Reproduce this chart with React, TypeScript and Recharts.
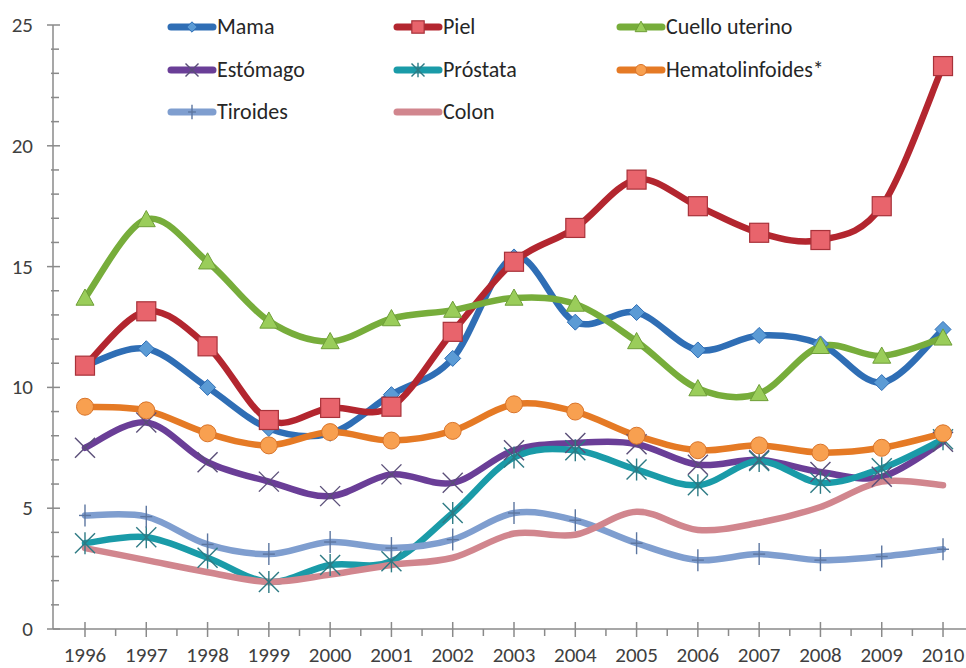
import React from "react";
import { LineChart, Line, XAxis, YAxis } from "recharts";

const years = [1996, 1997, 1998, 1999, 2000, 2001, 2002, 2003, 2004, 2005, 2006, 2007, 2008, 2009, 2010];
const yTicks = [0, 1, 2, 3, 4, 5, 6, 7, 8, 9, 10, 11, 12, 13, 14, 15, 16, 17, 18, 19, 20, 21, 22, 23, 24, 25];

const mama = [10.9, 11.6, 10.0, 8.3, 8.1, 9.7, 11.2, 15.4, 12.7, 13.1, 11.55, 12.15, 11.8, 10.2, 12.4];
const piel = [10.9, 13.15, 11.7, 8.65, 9.15, 9.2, 12.3, 15.2, 16.6, 18.6, 17.5, 16.4, 16.1, 17.5, 23.3];
const cuello = [13.7, 16.95, 15.2, 12.75, 11.9, 12.85, 13.2, 13.7, 13.45, 11.9, 9.95, 9.75, 11.7, 11.3, 12.05];
const estomago = [7.5, 8.55, 6.9, 6.1, 5.5, 6.4, 6.05, 7.4, 7.7, 7.65, 6.8, 7.0, 6.5, 6.3, 7.75];
const prostata = [3.55, 3.8, 2.95, 1.95, 2.65, 2.8, 4.8, 7.1, 7.4, 6.6, 5.95, 6.95, 6.05, 6.65, 7.85];
const hemato = [9.2, 9.05, 8.1, 7.6, 8.15, 7.8, 8.2, 9.3, 9.0, 8.0, 7.4, 7.6, 7.3, 7.5, 8.1];
const tiroides = [4.7, 4.65, 3.5, 3.1, 3.6, 3.35, 3.7, 4.8, 4.5, 3.55, 2.85, 3.1, 2.85, 3.0, 3.3];
const colon = [3.35, 2.85, 2.35, 1.95, 2.25, 2.65, 2.95, 3.95, 3.9, 4.85, 4.1, 4.4, 5.05, 6.1, 5.95];

const data = years.map((year, i) => ({
  year,
  mama: mama[i],
  piel: piel[i],
  cuello: cuello[i],
  estomago: estomago[i],
  prostata: prostata[i],
  hemato: hemato[i],
  tiroides: tiroides[i],
  colon: colon[i],
}));

const xTicks: number[] = [];
years.forEach((y, i) => {
  xTicks.push(y);
  if (i < years.length - 1) xTicks.push(y + 0.5);
});

const FONT = "Carlito, 'Liberation Sans Narrow', Lato, sans-serif";

type SeriesDef = {
  key: string;
  name: string;
  color: string;
  marker: string;
  fill: string;
  mstroke: string;
};

const series: SeriesDef[] = [
  { key: "mama", name: "Mama", color: "#2F6EB5", marker: "diamond", fill: "#5B9BD5", mstroke: "#2F6EB5" },
  { key: "piel", name: "Piel", color: "#B3262F", marker: "square", fill: "#E8646C", mstroke: "#A8323A" },
  { key: "cuello", name: "Cuello uterino", color: "#77AD3B", marker: "triangle", fill: "#9ACD5A", mstroke: "#6E9E38" },
  { key: "estomago", name: "Estómago", color: "#6A3E97", marker: "x", fill: "none", mstroke: "#5A4E78" },
  { key: "prostata", name: "Próstata", color: "#1A9BA8", marker: "star", fill: "none", mstroke: "#2D7A84" },
  { key: "hemato", name: "Hematolinfoides*", color: "#E57A25", marker: "circle", fill: "#F8A050", mstroke: "#D9742A" },
  { key: "tiroides", name: "Tiroides", color: "#7F9ECF", marker: "plus", fill: "none", mstroke: "#5C76A0" },
  { key: "colon", name: "Colon", color: "#D1868E", marker: "none", fill: "none", mstroke: "none" },
];

// Excel-like smoothed line (Catmull-Rom through points)
const excelCurve = (ctx: any) => {
  let pts: number[][] = [];
  return {
    areaStart() {},
    areaEnd() {},
    lineStart() {
      pts = [];
    },
    point(x: number, y: number) {
      pts.push([+x, +y]);
    },
    lineEnd() {
      if (!pts.length) return;
      ctx.moveTo(pts[0][0], pts[0][1]);
      const t = 1 / 6;
      for (let i = 0; i < pts.length - 1; i++) {
        const p0 = pts[i - 1] || pts[i];
        const p1 = pts[i];
        const p2 = pts[i + 1];
        const p3 = pts[i + 2] || p2;
        ctx.bezierCurveTo(
          p1[0] + (p2[0] - p0[0]) * t,
          p1[1] + (p2[1] - p0[1]) * t,
          p2[0] - (p3[0] - p1[0]) * t,
          p2[1] - (p3[1] - p1[1]) * t,
          p2[0],
          p2[1]
        );
      }
    },
  };
};

function Marker({ s, cx, cy, scale = 1 }: { s: SeriesDef; cx: number; cy: number; scale?: number }) {
  const k = scale;
  switch (s.marker) {
    case "diamond": {
      const r = 8 * k;
      return (
        <polygon
          points={`${cx},${cy - r} ${cx + r},${cy} ${cx},${cy + r} ${cx - r},${cy}`}
          fill={s.fill}
          stroke={s.mstroke}
          strokeWidth={1}
        />
      );
    }
    case "square": {
      const r = 9.5 * k;
      return <rect x={cx - r} y={cy - r} width={2 * r} height={2 * r} fill={s.fill} stroke={s.mstroke} strokeWidth={1.2} />;
    }
    case "triangle": {
      const r = 9 * k;
      return (
        <polygon
          points={`${cx},${cy - r} ${cx + r},${cy + r * 0.8} ${cx - r},${cy + r * 0.8}`}
          fill={s.fill}
          stroke={s.mstroke}
          strokeWidth={1}
        />
      );
    }
    case "circle":
      return <circle cx={cx} cy={cy} r={8.5 * k} fill={s.fill} stroke={s.mstroke} strokeWidth={1} />;
    case "x": {
      const r = 10 * k;
      return (
        <g stroke={s.mstroke} strokeWidth={1.4}>
          <line x1={cx - r} y1={cy - r} x2={cx + r} y2={cy + r} />
          <line x1={cx - r} y1={cy + r} x2={cx + r} y2={cy - r} />
        </g>
      );
    }
    case "star": {
      const r = 10 * k;
      return (
        <g stroke={s.mstroke} strokeWidth={1.4}>
          <line x1={cx - r} y1={cy - r} x2={cx + r} y2={cy + r} />
          <line x1={cx - r} y1={cy + r} x2={cx + r} y2={cy - r} />
          <line x1={cx} y1={cy - r * 1.1} x2={cx} y2={cy + r * 1.1} />
        </g>
      );
    }
    case "plus": {
      const r = 11 * k;
      return (
        <g stroke={s.mstroke} strokeWidth={1.4}>
          <line x1={cx} y1={cy - r} x2={cx} y2={cy + r} />
          <line x1={cx - 6 * k} y1={cy} x2={cx + 6 * k} y2={cy} />
        </g>
      );
    }
    default:
      return null;
  }
}

const XTick = (props: any) => {
  const { x, y, payload } = props;
  const v = payload.value;
  const major = Number.isInteger(v);
  return (
    <g>
      {major ? (
        <>
          <line x1={x} y1={y - 7} x2={x} y2={y + 8} stroke="#8A8A8A" strokeWidth={1.5} />
          <text x={x} y={y + 33} textAnchor="middle" fill="#404040" fontSize={21} fontFamily={FONT}>
            {v}
          </text>
        </>
      ) : (
        <line x1={x} y1={y} x2={x} y2={y + 7} stroke="#8A8A8A" strokeWidth={1.5} />
      )}
    </g>
  );
};

const YTick = (props: any) => {
  const { x, y, payload } = props;
  const v = payload.value;
  const major = v % 5 === 0;
  return (
    <g>
      {major ? (
        <>
          <line x1={x - 6} y1={y} x2={x + 7} y2={y} stroke="#8A8A8A" strokeWidth={1.5} />
          <text x={x - 20} y={y + 7} textAnchor="end" fill="#404040" fontSize={21} fontFamily={FONT}>
            {v}
          </text>
        </>
      ) : (
        <line x1={x - 2} y1={y} x2={x + 6} y2={y} stroke="#8A8A8A" strokeWidth={1.5} />
      )}
    </g>
  );
};

const legendCols = [168, 394, 617];
const legendRows = [27, 70, 112];

function LegendOverlay() {
  return (
    <svg width={966} height={140} style={{ position: "absolute", left: 0, top: 0, pointerEvents: "none" }}>
      {series.map((s, i) => {
        const col = i % 3;
        const row = Math.floor(i / 3);
        const x0 = legendCols[col];
        const y = legendRows[row];
        const w = 48;
        return (
          <g key={s.key}>
            <line x1={x0 + 3} y1={y} x2={x0 + w - 3} y2={y} stroke={s.color} strokeWidth={7} strokeLinecap="round" />
            <Marker s={s} cx={x0 + w / 2} cy={y} scale={0.65} />
            <text x={x0 + w + 1} y={y + 7} fill="#262626" fontSize={22} fontFamily={FONT}>
              {s.name}
            </text>
          </g>
        );
      })}
    </svg>
  );
}

export default function App() {
  return (
    <div style={{ position: "absolute", left: 0, top: 0, width: 966, height: 668, background: "#fff" }}>
      <LineChart width={966} height={668} data={data} margin={{ top: 25, right: 0, bottom: 0, left: 0 }}>
        <XAxis
          dataKey="year"
          type="number"
          domain={[1995.478, 2010.375]}
          ticks={xTicks}
          interval={0}
          allowDataOverflow
          height={39}
          tickSize={0}
          tickMargin={0}
          tickLine={false}
          axisLine={{ stroke: "#8A8A8A", strokeWidth: 1.5 }}
          tick={<XTick />}
        />
        <YAxis
          type="number"
          domain={[0, 25]}
          ticks={yTicks}
          interval={0}
          width={53}
          tickSize={0}
          tickMargin={0}
          tickLine={false}
          axisLine={{ stroke: "#8A8A8A", strokeWidth: 1.5 }}
          tick={<YTick />}
        />
        {series.map((s) => (
          <Line
            key={s.key}
            dataKey={s.key}
            name={s.name}
            type={excelCurve as any}
            stroke={s.color}
            strokeWidth={6.5}
            strokeLinecap="round"
            strokeLinejoin="round"
            isAnimationActive={false}
            activeDot={false}
            dot={(p: any) => (
              <g key={`${s.key}-${p.index}`}>
                <Marker s={s} cx={p.cx} cy={p.cy} />
              </g>
            )}
          />
        ))}
      </LineChart>
      <LegendOverlay />
    </div>
  );
}
